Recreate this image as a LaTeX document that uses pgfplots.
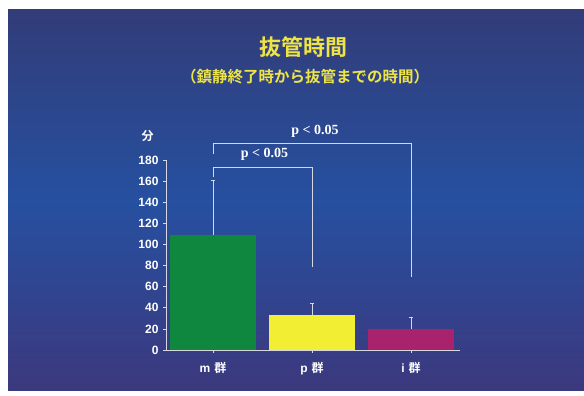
\documentclass[border=0pt]{standalone}
\usepackage{pgfplots}
\pgfplotsset{compat=1.18}
\usepackage{fontspec}
\setmainfont{Liberation Sans}
\newfontfamily\jpfont{Noto Sans CJK JP}[BoldFont={* Bold}]
\newfontfamily\serifbold{Liberation Serif}
\definecolor{bgtop}{RGB}{50,60,120}
\definecolor{bgmid}{RGB}{38,80,160}
\definecolor{bgbot}{RGB}{60,56,125}
\definecolor{titleyellow}{RGB}{238,228,70}
\definecolor{bargreen}{RGB}{16,135,62}
\definecolor{baryellow}{RGB}{242,238,52}
\definecolor{barmagenta}{RGB}{168,34,110}
\definecolor{linegray}{RGB}{215,215,225}
\begin{document}
\begin{tikzpicture}[x=1pt,y=1pt]
% slide background with its paper margin
\fill[white] (0,0) rectangle (584,396);
\shade[top color=bgtop, bottom color=bgbot, middle color=bgmid] (8,5) rectangle (584,386);
% titles
\node[text=titleyellow, font=\jpfont\bfseries\fontsize{22}{24}\selectfont] at (303,349) {抜管時間};
\node[text=titleyellow, font=\jpfont\bfseries\fontsize{15.5}{17}\selectfont] at (305,319) {（鎮静終了時から抜管までの時間）};
\begin{axis}[
  at={(166pt,46pt)}, anchor=south west,
  scale only axis, width=294pt, height=190pt,
  xmin=-0.475, xmax=2.495, ymin=0, ymax=180,
  axis lines=left, axis line style={linegray, line width=0.8pt, -},
  clip=false,
  xtick={0,1,2},
  xticklabels={{m\,\,{\jpfont\bfseries 群}},{p\,\,{\jpfont\bfseries 群}},{i\,\,{\jpfont\bfseries 群}}},
  ytick={0,20,...,180},
  tick style={linegray, line width=0.6pt},
  major tick length=3pt,
  tick align=outside,
  ticklabel style={text=white, font=\bfseries\fontsize{12}{13}\selectfont},
  /pgf/number format/assume math mode=true,
  yticklabel style={xshift=-1pt},
  xticklabel style={yshift=-6pt},
  error bars/y dir=plus, error bars/y explicit,
  error bars/error bar style={linegray, line width=0.7pt},
  error bars/error mark options={rotate=90, linegray, mark size=2pt, line width=0.7pt},
  bars/.style={ybar, bar width=86pt, bar shift=0pt, draw=none},
]
\addplot[bars, fill=bargreen] coordinates {(0,109) +- (0,52)};
\addplot[bars, fill=baryellow] coordinates {(1,33) +- (0,11)};
\addplot[bars, fill=barmagenta] coordinates {(2,20) +- (0,11)};
% significance brackets
\addplot[linegray, line width=0.7pt, sharp plot, no marks, forget plot] coordinates {(0,164) (0,173) (1,173) (1,79)};
\addplot[linegray, line width=0.7pt, sharp plot, no marks, forget plot] coordinates {(0,186) (0,196) (2,196) (2,69)};
\node[text=white, font=\serifbold\bfseries\fontsize{14}{16}\selectfont] at (axis cs:0.52,185.5) {p < 0.05};
\node[text=white, font=\serifbold\bfseries\fontsize{14}{16}\selectfont] at (axis cs:1.03,207) {p < 0.05};
\node[text=white, font=\jpfont\bfseries\fontsize{12}{13}\selectfont] at (axis cs:-0.66,203) {分};
\end{axis}
\end{tikzpicture}
\end{document}
